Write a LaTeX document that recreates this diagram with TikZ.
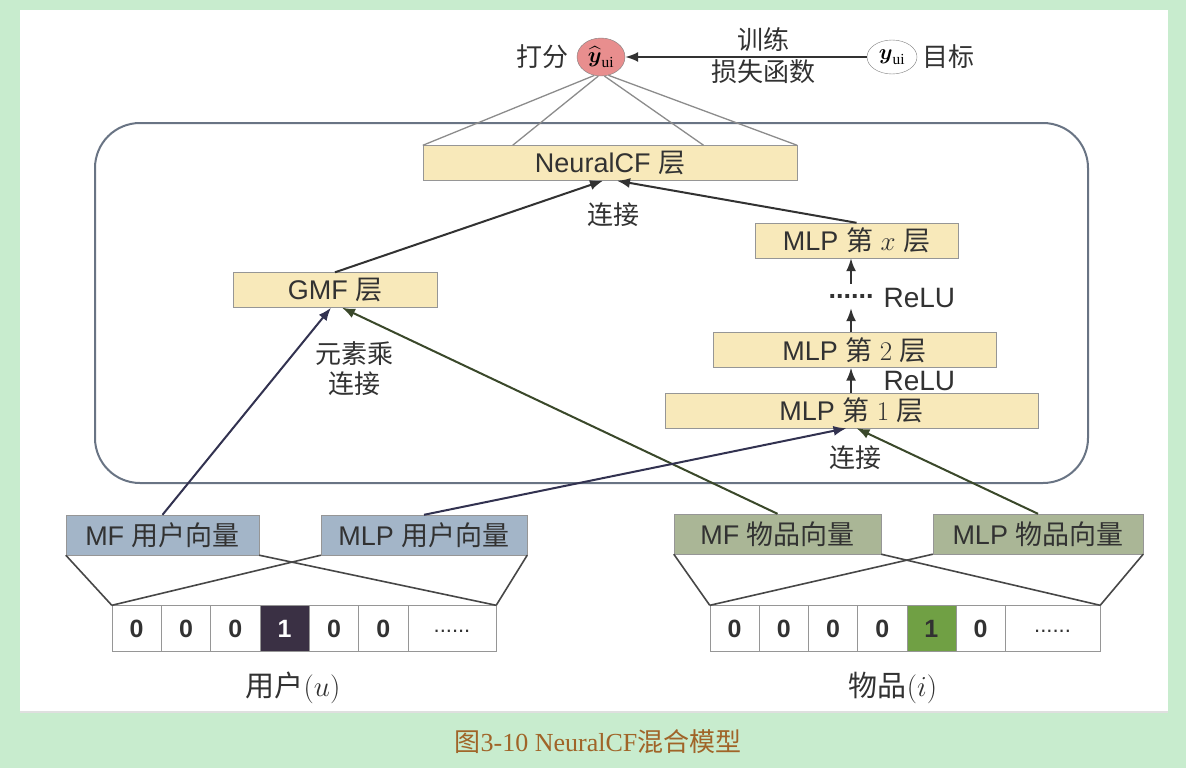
\documentclass[tikz,border=0pt]{standalone}
\usepackage{fix-cm}
\usepackage{amsmath}
\usepackage{fontspec}
\setmainfont{Liberation Sans}
\newfontfamily\cjk{Noto Sans CJK SC}
\newfontfamily\capserif{Liberation Serif}
\usetikzlibrary{arrows.meta,calc,shapes.geometric}

\definecolor{greenbg}{RGB}{200,236,206}
\definecolor{capcol}{RGB}{160,100,40}
\definecolor{txt}{RGB}{50,50,50}
\definecolor{framecol}{RGB}{105,116,132}
\definecolor{boxline}{RGB}{150,150,150}
\definecolor{layerfill}{RGB}{248,233,186}
\definecolor{userfill}{RGB}{163,181,200}
\definecolor{itemfill}{RGB}{170,182,150}
\definecolor{hotuser}{RGB}{58,48,68}
\definecolor{hotitem}{RGB}{112,160,68}
\definecolor{scorefill}{RGB}{232,142,142}
\definecolor{userline}{RGB}{50,50,80}
\definecolor{itemline}{RGB}{58,72,42}

\newcommand\labsize{\fontsize{26}{30}\selectfont}
\newcommand\boxsize{\fontsize{27}{30}\selectfont}

\tikzset{
  layer/.style={draw=boxline, fill=layerfill, minimum height=35pt, inner sep=0pt, text=txt, font=\boxsize},
  uvec/.style={draw=boxline, fill=userfill, minimum height=40pt, inner sep=0pt, text=txt, font=\boxsize},
  ivec/.style={draw=boxline, fill=itemfill, minimum height=40pt, inner sep=0pt, text=txt, font=\boxsize},
  cell/.style={draw=boxline, minimum width=49.3pt, minimum height=46pt, inner sep=0pt, font=\fontsize{25}{28}\selectfont\bfseries},
  dotcell/.style={cell, text=txt, text height=7pt, text depth=0pt, font=\fontsize{22}{24}\selectfont},
  conn/.style={draw=txt, line width=2pt, -{Latex[length=13pt,width=10pt]}},
  uconn/.style={conn, draw=userline},
  iconn/.style={conn, draw=itemline},
  thin/.style={draw=gray!90, line width=1.3pt},
  fan/.style={draw=txt!90, line width=1.6pt},
  tag/.style={text=txt, font=\labsize\cjk}
}

\begin{document}
\begin{tikzpicture}[x=1pt,y=-1pt]

\fill[greenbg] (0,0) rectangle (1186,768);
\fill[white] (20,10) rectangle (1168,712);
\draw[gray!25, line width=2.5pt] (20,712) -- (1168,712);
\useasboundingbox (0,0) rectangle (1186,768);

% model frame
\draw[framecol, line width=2pt, rounded corners=45pt] (95,123) rectangle (1088,483);

% output and target
\node[ellipse, draw=gray, fill=scorefill, minimum width=48pt, minimum height=38pt, inner sep=0pt] (score) at (601,57) {\fontsize{22}{22}\selectfont$\widehat{\boldsymbol{y}}_{\text{\capserif ui}}$};
\node[ellipse, draw=gray, fill=white, minimum width=50pt, minimum height=34pt, inner sep=0pt] (target) at (892,57) {\fontsize{22}{22}\selectfont$\boldsymbol{y}_{\text{\capserif ui}}$};
\node[tag, anchor=east] (scoretag) at (572,57) {打分};
\node[tag, anchor=west] (targettag) at (919,57) {目标};
\node[tag] (train) at (763,40) {训练};
\node[tag] (loss) at (763,72) {损失函数};
\draw[conn] (target) -- (score);

% layers
\node[layer, minimum width=374pt] (nf) at (610,163) {NeuralCF {\cjk 层}};
\node[layer, minimum width=204pt] (gmf) at (335,290) {GMF {\cjk 层}};
\node[layer, minimum width=203pt] (mlpx) at (856.5,240.5) {MLP {\cjk 第} $x$ {\cjk 层}};
\node[layer, minimum width=283pt] (mlp2) at (854.5,350) {MLP {\cjk 第} $2$ {\cjk 层}};
\node[layer, minimum width=373pt] (mlp1) at (851.5,410.5) {MLP {\cjk 第} $1$ {\cjk 层}};
\node[text=txt, font=\fontsize{27}{30}\selectfont\bfseries, minimum height=24pt, inner sep=0pt] (dots) at (851,296) {......};
\node[text=txt, font=\fontsize{28}{30}\selectfont, anchor=west] (relu1) at (880,298) {ReLU};
\node[text=txt, font=\fontsize{28}{30}\selectfont, anchor=west] (relu2) at (880,381) {ReLU};

\node[tag] (cat1) at (613,215) {连接};
\node[tag, align=center] (mul) at (354,369) {元素乘\\连接};
\node[tag] (cat2) at (855,458) {连接};

\foreach \a/\f in {250/0, 262/0.24, 280/0.75, 292/1}
  \draw[thin] (score.\a) -- ($(nf.north west)!\f!(nf.north east)$);

\draw[conn] (gmf.north) -- ($(nf.south)+(-7,0)$);
\draw[conn] (mlpx.north) -- ($(nf.south)+(7,0)$);
\draw[conn] (mlp1.north -| dots) -- (mlp2.south -| dots);
\draw[conn] (mlp2.north -| dots) -- (dots.south);
\draw[conn] (dots.north) -- (mlpx.south -| dots);

% embedding vectors
\node[uvec, minimum width=193pt] (mfu) at (162.5,535) {MF {\cjk 用户向量}};
\node[uvec, minimum width=206pt] (mlpu) at (424,535) {MLP {\cjk 用户向量}};
\node[ivec, minimum width=207pt] (mfi) at (777.5,534) {MF {\cjk 物品向量}};
\node[ivec, minimum width=210pt] (mlpi) at (1038,534) {MLP {\cjk 物品向量}};

% one-hot inputs
\foreach \v/\f/\t [count=\k] in {0/white/txt,0/white/txt,0/white/txt,1/hotuser/white,0/white/txt,0/white/txt}
  \node[cell, fill=\f, text=\t] (u\k) at ({112+49.33*(\k-0.5)},628.5) {\v};
\node[dotcell, minimum width=88pt] (u7) at (452,628.5) {......};
\foreach \v/\f [count=\k] in {0/white,0/white,0/white,0/white,1/hotitem,0/white}
  \node[cell, fill=\f, text=txt] (i\k) at ({710+49.2*(\k-0.5)},628.5) {\v};
\node[dotcell, minimum width=95pt] (i7) at (1052.5,628.5) {......};
\node[text=txt, font=\fontsize{29}{32}\selectfont] (ulab) at (293,688) {{\cjk 用户}$(u)$};
\node[text=txt, font=\fontsize{29}{32}\selectfont] (ilab) at (893,688) {{\cjk 物品}$(i)$};

\draw[fan] (mfu.south west) -- (u1.north west);
\draw[fan] (mfu.south east) -- (u7.north east);
\draw[fan] (mlpu.south west) -- (u1.north west);
\draw[fan] (mlpu.south east) -- (u7.north east);
\draw[fan] (mfi.south west) -- (i1.north west);
\draw[fan] (mfi.south east) -- (i7.north east);
\draw[fan] (mlpi.south west) -- (i1.north west);
\draw[fan] (mlpi.south east) -- (i7.north east);

\draw[uconn] (mfu.north) -- ($(gmf.south)+(-4,0)$);
\draw[iconn] (mfi.north) -- ($(gmf.south)+(7,0)$);
\draw[uconn] (mlpu.north) -- ($(mlp1.south)+(-5,0)$);
\draw[iconn] (mlpi.north) -- ($(mlp1.south)+(5,0)$);

% caption
\node[text=capcol, font=\capserif\fontsize{26}{28}\selectfont] (cap) at (598,742) {{\cjk 图}3-10 NeuralCF{\cjk 混合模型}};

\end{tikzpicture}
\end{document}
